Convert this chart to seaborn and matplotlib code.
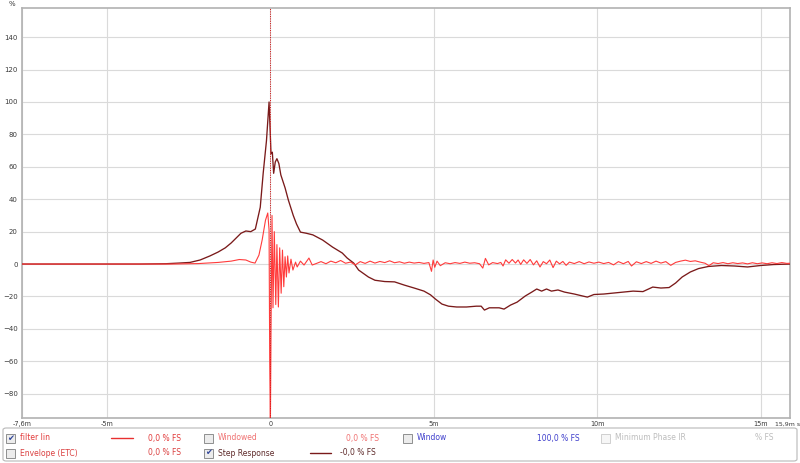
"""
Impulse / step response view (REW style)
"""

import matplotlib.pyplot as plt
import seaborn as sns
from matplotlib.patches import FancyBboxPatch, Rectangle
from matplotlib.lines import Line2D

# time axis in ms, values in % FS
step_t = [-7.6, -4.0, -3.2, -2.8, -2.46, -2.15, -1.85, -1.6, -1.38, -1.2, -1.05, -0.9,
          -0.75, -0.6, -0.46, -0.31, -0.22, -0.12, -0.04, 0.02, 0.06, 0.1, 0.15, 0.2,
          0.26, 0.32, 0.45, 0.55, 0.7, 0.8, 0.92, 1.1, 1.3, 1.6, 1.9, 2.2, 2.35, 2.55,
          2.7, 3.0, 3.2, 3.5, 3.8, 4.1, 4.4, 4.7, 4.9, 5.05, 5.25, 5.45, 5.7, 6.0, 6.3,
          6.45, 6.55, 6.7, 7.0, 7.15, 7.35, 7.55, 7.8, 8.0, 8.15, 8.3, 8.45, 8.6, 8.8,
          9.0, 9.3, 9.55, 9.7, 9.9, 10.2, 10.5, 10.8, 11.1, 11.4, 11.7, 11.95, 12.2,
          12.4, 12.6, 12.85, 13.1, 13.4, 13.8, 14.2, 14.6, 15.0, 15.4, 15.9]
step_pct = [0, 0, 0.2, 0.6, 1, 2.5, 5, 7.4, 10, 13, 16, 19,
            20.4, 20, 21.6, 35, 56, 76, 100, 68, 69, 56, 63, 65,
            62, 55, 47, 39.5, 30, 24.7, 19.7, 19, 18, 14.8, 10.5, 6.8, 3.7, 0.6,
            -3.7, -8, -10, -10.8, -11, -13, -14.8, -16.7, -19, -21.6, -24.7, -26, -26.5, -26.5, -26,
            -26, -28.4, -27, -27, -27.8, -25.3, -23.5, -19.7, -17.3, -15.4, -16.7, -15.4, -16.7, -16,
            -17.3, -18.5, -19.7, -20.4, -18.8, -18.5, -17.9, -17.3, -16.7, -17, -14.2, -14.8, -14.5,
            -11.7, -8, -4.9, -2.8, -1.5, -0.9, -1.2, -1.8, -0.9, -0.3, 0]

filter_t = [-7.6, -3.0, -2.2, -1.6, -1.2, -0.95, -0.75, -0.6, -0.47, -0.35, -0.25, -0.15,
            -0.08, -0.04, -0.02, 0.0, 0.02, 0.05, 0.08, 0.12, 0.165, 0.2, 0.245, 0.285,
            0.33, 0.37, 0.41, 0.45, 0.49, 0.53, 0.57, 0.63, 0.69, 0.77, 0.82, 0.92, 1.03,
            1.18, 1.28, 1.4, 1.55, 1.7, 1.85, 2.0, 2.15, 2.3, 2.45, 2.6, 2.75, 2.9, 3.05,
            3.2, 3.35, 3.5, 3.65, 3.8, 3.95, 4.1, 4.25, 4.4, 4.55, 4.7, 4.85, 4.93, 4.98,
            5.03, 5.1, 5.2, 5.35, 5.5, 5.65, 5.8, 5.95, 6.1, 6.25, 6.4, 6.5, 6.58, 6.68,
            6.8, 6.95, 7.05, 7.12, 7.2, 7.3, 7.4, 7.5, 7.58, 7.66, 7.75, 7.85, 7.95, 8.05,
            8.15, 8.25, 8.35, 8.45, 8.55, 8.65, 8.75, 8.85, 8.95, 9.05, 9.15, 9.3, 9.45,
            9.6, 9.75, 9.9, 10.05, 10.2, 10.35, 10.5, 10.65, 10.8, 10.95, 11.05, 11.2,
            11.35, 11.5, 11.65, 11.8, 11.95, 12.1, 12.25, 12.4, 12.55, 12.7, 12.85, 13.0,
            13.15, 13.3, 13.42, 13.55, 13.7, 13.85, 14.0, 14.15, 14.3, 14.45, 14.6, 14.75,
            14.9, 15.05, 15.2, 15.35, 15.5, 15.65, 15.8, 15.9]
filter_pct = [0, 0, 0.3, 1, 1.8, 2.8, 2.5, 1.2, 0.6, 5.5, 15, 27,
              31.5, 21, -60, -100, -40, 30, -27, 20, -25, 12, -26.5, 10,
              -18, 8.6, -14, 4.5, -8, 5, -5.5, 3, -3.7, 1.2, -1.8, 1.8, -0.6,
              3.7, -0.6, 0.3, 1.5, 0.2, 1.8, 0.8, 2.2, 0.5, 1.2, -0.5, 1.5, 0.4, 1.8,
              0.6, 1.6, 0.9, 2.0, 0.8, 1.4, 0.5, 1.2, 0.6, 1.0, 0.4, 0.9, -4.5, 2.5,
              -2.0, 1.8, -1.0, 0.8, 0.2, 0.9, 0.4, 1.2, 0.5, 0.8, 0.2, -2.5, 3.5, -0.5,
              0.9, 0.3, 1.0, -1.2, 2.6, 0.5, 2.8, 0.6, 2.5, -0.2, 2.6, 0.4, 2.8, -0.5,
              2.0, -1.8, 1.5, 0.2, 2.5, -2.2, 1.8, 0.1, 1.6, -0.8, 1.2, 0.3, 1.5,
              0.2, 1.3, 0.5, 1.2, 0.3, 1.0, -0.5, 1.5, 0.2, 1.6, -1.2, 1.4,
              0.3, 1.5, 0.4, 1.8, 0.6, 1.5, -0.8, 1.0, 1.8, 2.4, 1.6, 2.0,
              1.2, 0.5, -1.0, 0.8, 0.3, 0.9, 0.2, 0.8, 0.3, 0.7, 0.1, 0.8,
              0.2, 0.7, 0.2, 0.8, 0.3, 0.9, 0.4, 0.5]

x_ticks = [-7.6, -5, 0, 5, 10, 15, 15.9]
x_labels = ['-7,6m', '-5m', '0', '5m', '10m', '15m', '']
x_end_label = '15,9m s'
y_ticks = [-80, -60, -40, -20, 0, 20, 40, 60, 80, 100, 120, 140]

W, H = 800, 463


def fx(px):
    return px / W


def fy(py):
    return 1 - py / H


def setup_style():
    sns.set_theme(style="white")
    plt.rcParams.update({
        'font.family': ['DejaVu Sans'],
        'font.size': 5.5,
    })


def draw_checkbox(fig, x, y, checked, enabled=True):
    edge = '#8e8f8f' if enabled else '#cfcfcf'
    face = '#ececec' if enabled else '#f6f6f6'
    fig.add_artist(Rectangle((fx(x), fy(y + 9)), 9 / W, 9 / H, transform=fig.transFigure,
                             facecolor=face, edgecolor=edge, linewidth=0.7))
    if checked:
        fig.text(fx(x + 4.5), fy(y + 4.5), '\u2714', color='#31469a', fontsize=6,
                 ha='center', va='center')


def draw_legend(fig):
    fig.add_artist(FancyBboxPatch((fx(3), fy(461)), 794 / W, 33 / H,
                                  boxstyle='round,pad=0,rounding_size=0.004',
                                  transform=fig.transFigure, facecolor='white',
                                  edgecolor='#b8b8b8', linewidth=0.8))
    r1, r2 = 438, 453
    items = [
        (6, r1, True, True, 'filter lin', '#e23a3a', 148, '0,0 % FS'),
        (204, r1, False, True, 'Windowed', '#f07272', 346, '0,0 % FS'),
        (403, r1, False, True, 'Window', '#3f3fcc', 537, '100,0 % FS'),
        (601, r1, False, False, 'Minimum Phase IR', '#bdbdbd', 755, '% FS'),
        (6, r2, False, True, 'Envelope (ETC)', '#da4040', 148, '0,0 % FS'),
        (204, r2, True, True, 'Step Response', '#5e2a2a', 340, '-0,0 % FS'),
    ]
    for cx, cy, checked, enabled, label, col, vx, val in items:
        draw_checkbox(fig, cx, cy - 4.5, checked, enabled)
        fig.text(fx(cx + 14), fy(cy), label, color=col, ha='left', va='center')
        fig.text(fx(vx), fy(cy), val, color=col, ha='left', va='center')
    fig.add_artist(Line2D([fx(111), fx(133)], [fy(r1), fy(r1)], transform=fig.transFigure,
                          color='#e83030', linewidth=1.0))
    fig.add_artist(Line2D([fx(310), fx(331)], [fy(r2), fy(r2)], transform=fig.transFigure,
                          color='#7a1a1a', linewidth=1.0))


def plot_response():
    fig = plt.figure(figsize=(W / 100, H / 100), dpi=100)
    fig.patch.set_facecolor('white')
    ax = fig.add_axes([fx(22), fy(418), 768 / W, 410 / H])

    sns.lineplot(x=step_t, y=step_pct, ax=ax, color='#7a1a1a', linewidth=0.95,
                 estimator=None, sort=False, zorder=3)
    sns.lineplot(x=filter_t, y=filter_pct, ax=ax, color='#ff3b3b', linewidth=0.8,
                 estimator=None, sort=False, zorder=4)

    # cursor
    ax.axvline(0, color='#d42020', linewidth=0.7, linestyle=(0, (1.2, 1.2)), zorder=5)

    ax.set_xlim(-7.6, 15.9)
    ax.set_ylim(-95, 158)
    ax.set_xticks(x_ticks)
    ax.set_xticklabels(x_labels)
    ax.set_yticks(y_ticks)
    ax.grid(True, color='#dadada', linewidth=0.8)
    ax.tick_params(length=0, labelsize=5, labelcolor='#3a3a3a', pad=3)
    ax.tick_params(axis='x', pad=2, labelsize=4.7)
    for s in ax.spines.values():
        s.set_color('#b2b2b2')
        s.set_linewidth(1.2)
    ax.set_xlabel('')
    ax.set_ylabel('')

    fig.text(fx(12), fy(4), '%', fontsize=5, color='#3a3a3a', ha='center', va='center')
    fig.text(fx(800), fy(424), x_end_label, fontsize=4.5, color='#3a3a3a',
             ha='right', va='center')

    draw_legend(fig)
    fig.savefig('out.png', dpi=100)
    plt.close(fig)


if __name__ == "__main__":
    setup_style()
    plot_response()
